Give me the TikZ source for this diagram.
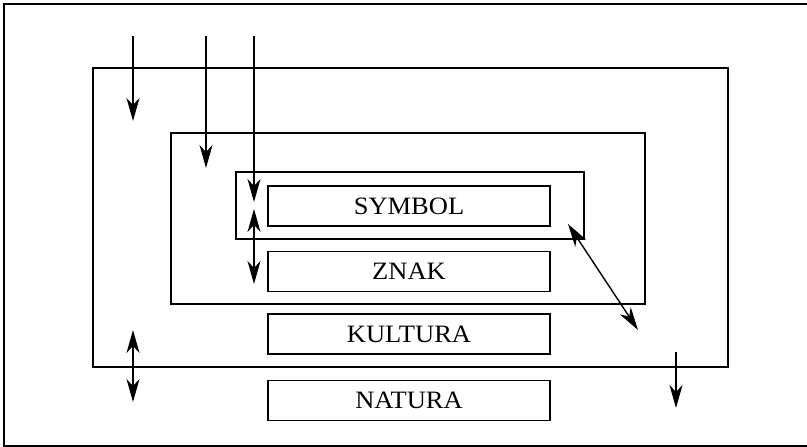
\documentclass[tikz,border=0pt]{standalone}
\usepackage{fontspec}
\setmainfont{Liberation Serif}[FakeStretch=1.06]
\usetikzlibrary{arrows.meta}
\begin{document}
\begin{tikzpicture}[x=1pt,y=-1pt,
  frame/.style={draw, line width=1.3pt, inner sep=0pt},
  label/.style={draw, line width=1.3pt, minimum width=282pt, minimum height=40pt, inner sep=0pt, font=\fontsize{25}{28}\selectfont},
  tip/.style={Stealth[length=23pt,width=13pt,inset=7pt]},
  arr/.style={line width=1.4pt, -{Stealth[length=23pt,width=13pt,inset=7pt]}},
  darr/.style={line width=1.4pt, {Stealth[length=23pt,width=13pt,inset=7pt]}-{Stealth[length=23pt,width=13pt,inset=7pt]}}]
\useasboundingbox (0,0) rectangle (807,447);
% outer page frame
\coordinate (fbl) at (4,446);
\coordinate (ftl) at (4,4);
\coordinate (ftr) at (810,4);
\coordinate (fbr) at (810,446);
\draw[line width=1.3pt] (ftr) -- (ftl) -- (fbl) -- (fbr);
% nested frames
\node[frame, minimum width=635pt, minimum height=299pt] (cult) at (410.5,217.5) {};
\node[frame, minimum width=474pt, minimum height=171pt] (znakf) at (408,218.5) {};
\node[frame, minimum width=348pt, minimum height=67pt] (symf) at (410,205.5) {};
% labelled boxes
\node[label] (symbol) at (409,206) {SYMBOL};
\node[label] (znak) at (409,271.5) {ZNAK};
\node[label] (kultura) at (409,334) {KULTURA};
\node[label] (natura) at (409,400.5) {NATURA};
% arrow ends
\coordinate (a1s) at (133,36);  \coordinate (a1e) at (133,121);
\coordinate (a2s) at (206,36);  \coordinate (a2e) at (206,168);
\coordinate (a3s) at (254,36);  \coordinate (a3e) at (254,202);
\coordinate (b1s) at (254,209); \coordinate (b1e) at (254,284);
\coordinate (b2s) at (568,224); \coordinate (b2e) at (638,330);
\coordinate (b3s) at (133,330); \coordinate (b3e) at (133,402);
\coordinate (a4s) at (676,352); \coordinate (a4e) at (676,408);
\draw[arr] (a1s) -- (a1e);
\draw[arr] (a2s) -- (a2e);
\draw[arr] (a3s) -- (a3e);
\draw[darr] (b1s) -- (b1e);
\draw[darr] (b2s) -- (b2e);
\draw[darr] (b3s) -- (b3e);
\draw[arr] (a4s) -- (a4e);
\end{tikzpicture}
\end{document}
